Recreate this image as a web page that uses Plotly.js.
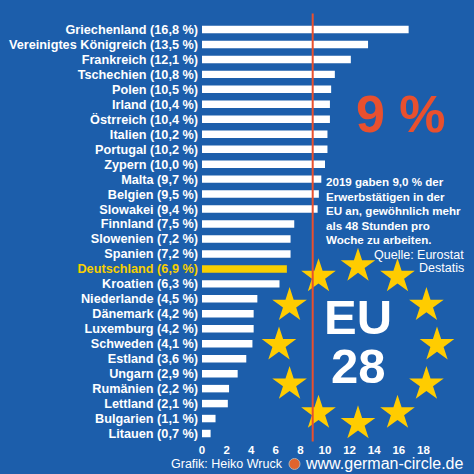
<!DOCTYPE html>
<html><head><meta charset="utf-8">
<script src="https://cdn.plot.ly/plotly-3.0.1.min.js"></script>
<style>html,body{margin:0;padding:0;background:#1c5eab;}</style>
</head><body>
<div id="chart" style="width:474px;height:474px;"></div>
<script>
const countries = ["Griechenland","Vereinigtes Königreich","Frankreich","Tschechien","Polen","Irland","Östrreich","Italien","Portugal","Zypern","Malta","Belgien","Slowakei","Finnland","Slowenien","Spanien","Deutschland","Kroatien","Niederlande","Dänemark","Luxemburg","Schweden","Estland","Ungarn","Rumänien","Lettland","Bulgarien","Litauen"];
const values = [16.8,13.5,12.1,10.8,10.5,10.4,10.4,10.2,10.2,10.0,9.7,9.5,9.4,7.5,7.2,7.2,6.9,6.3,4.5,4.2,4.2,4.1,3.6,2.9,2.2,2.1,1.1,0.7];
const highlight = "Deutschland";
const euAverage = 9;
const xTicks = [0,2,4,6,8,10,12,14,16,18];

const BG = "#1c5eab", YEL = "#f7cf00", RED = "#e8502e";
const W = 474, H = 474, L = 202, T = 21.5, B = 441.5;
const px = x => (x - L) / (W - L);
const py = y => (B - y) / (B - T);
const fmt = v => v.toFixed(1).replace(".", ",");

const ticktext = countries.map((c,i) => {
  const t = c + " (" + fmt(values[i]) + " %)";
  return c === highlight ? '<span style="color:' + YEL + '">' + t + '</span>' : t;
});
const barColors = countries.map(c => c === highlight ? YEL : "#ffffff");

// EU stars ring (decoration)
const cx = 358, cy = 345, r = 79;
const sx = [], sy = [];
for (let k = 0; k < 12; k++) { const a = k * Math.PI / 6; sx.push(cx + r * Math.cos(a)); sy.push(cy - r * Math.sin(a)); }

const traces = [
  { type: "bar", orientation: "h", y: countries, x: values, width: 0.5,
    marker: { color: barColors, line: { width: 0 } }, hoverinfo: "skip" },
  { type: "scatter", mode: "markers", x: sx, y: sy, xaxis: "x2", yaxis: "y2",
    marker: { symbol: "star", size: 26, color: "#ffcc00", line: { width: 0 } }, hoverinfo: "skip", cliponaxis: false }
];

const F = "Liberation Sans, Arial, sans-serif";
const ann = (x, y, text, size, opts) => Object.assign({
  xref: "paper", yref: "paper", x: px(x), y: py(y), text: text, showarrow: false, borderpad: 0,
  font: { family: F, size: size, color: "#ffffff" }, xanchor: "center", yanchor: "middle"
}, opts || {});

const para = ["2019 gaben 9,0 % der", "Erwerbstätigen in der", "EU an, gewöhnlich mehr", "als 48 Stunden pro", "Woche zu arbeiten."];
const annotations = [
  ann(401, 114, "<b>9 %</b>", 52, { font: { family: F, size: 52, color: RED } }),
  ann(358, 317, "<b>EU</b>", 49),
  ann(358, 366, "<b>28</b>", 49),
  ann(465, 255, "Quelle: Eurostat", 12.5, { xanchor: "right" }),
  ann(465, 268.5, "Destatis", 12.5, { xanchor: "right" }),
  ann(284, 465, "Grafik: Heiko Wruck", 12.5, { xanchor: "right" }),
  ann(304, 464.5, "www.german-circle.de", 16, { xanchor: "left" })
];
para.forEach((t, i) => annotations.push(ann(325, 181.5 + 14.5 * i, "<b>" + t + "</b>", 11.6, { xanchor: "left" })));

const layout = {
  width: W, height: H,
  margin: { l: L, r: 0, t: T, b: H - B, pad: 0 },
  paper_bgcolor: BG, plot_bgcolor: BG,
  showlegend: false, bargap: 0.5,
  font: { family: F, color: "#ffffff" },
  xaxis: { range: [0, (W - L) / 12.3], tickvals: xTicks, ticktext: xTicks.map(String),
    showgrid: false, zeroline: false, showline: false, ticks: "", ticklen: 0,
    tickfont: { family: F, size: 11.5, color: "#ffffff", weight: "bold" }, fixedrange: true },
  yaxis: { type: "category", categoryorder: "array", categoryarray: countries,
    range: [countries.length - 0.5, -0.5], tickvals: countries, ticktext: ticktext,
    showgrid: false, zeroline: false, showline: false, ticks: "", ticklabelstandoff: 3,
    tickfont: { family: F, size: 12.7, color: "#ffffff", weight: "bold" }, fixedrange: true },
  xaxis2: { overlaying: "x", range: [L, W], visible: false, fixedrange: true },
  yaxis2: { overlaying: "y", range: [B, T], visible: false, fixedrange: true },
  shapes: [
    { type: "line", xref: "x", yref: "paper", x0: euAverage, x1: euAverage, y0: py(442), y1: py(13),
      line: { color: RED, width: 2 }, layer: "above" },
    { type: "circle", xref: "paper", yref: "paper", x0: px(289), x1: px(300), y0: py(470), y1: py(459),
      fillcolor: "#e0642c", line: { color: "#b0b0b0", width: 1 } }
  ],
  annotations: annotations
};

Plotly.newPlot("chart", traces, layout, { staticPlot: true, displayModeBar: false });
</script>
</body></html>
